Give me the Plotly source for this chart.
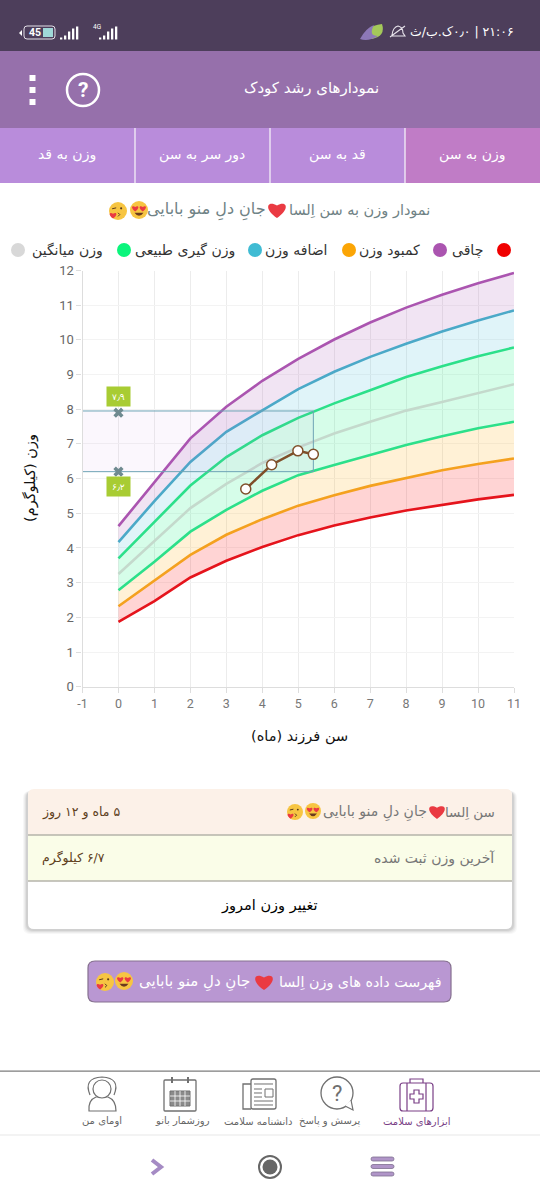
import re
import plotly.graph_objects as go

W = 540
H = 1200

# curves (kg per month)
ages = [0, 1, 2, 3, 4, 5, 6, 7, 8, 9, 10, 11]
weight_red = [1.87, 2.47, 3.15, 3.63, 4.03, 4.37, 4.65, 4.88, 5.08, 5.25, 5.40, 5.53]
weight_orange = [2.32, 3.05, 3.80, 4.38, 4.83, 5.22, 5.52, 5.79, 6.02, 6.24, 6.42, 6.58]
weight_green_low = [2.78, 3.60, 4.47, 5.10, 5.65, 6.10, 6.39, 6.68, 6.97, 7.22, 7.45, 7.64]
weight_grey = [3.25, 4.20, 5.15, 5.85, 6.45, 6.90, 7.30, 7.64, 7.96, 8.21, 8.47, 8.72]
weight_green_high = [3.70, 4.75, 5.80, 6.62, 7.25, 7.75, 8.17, 8.55, 8.93, 9.24, 9.53, 9.78]
weight_blue = [4.17, 5.35, 6.48, 7.35, 7.97, 8.58, 9.08, 9.51, 9.89, 10.24, 10.56, 10.85]
weight_purple = [4.63, 5.90, 7.16, 8.07, 8.82, 9.45, 10.01, 10.50, 10.93, 11.30, 11.63, 11.93]

child_age = [3.54, 4.26, 4.99, 5.42]
child_weight = [5.7, 6.4, 6.8, 6.7]

range_x = [-1, 5.42]
range_y = [6.2, 7.95]
limit_age = [0, 0]
limit_weight = [7.9, 6.2]
limit_labels = ["۷٫۹", "۶٫۲"]

x_ticks = [-1, 0, 1, 2, 3, 4, 5, 6, 7, 8, 9, 10, 11]
x_tick_labels = ["-1", "0", "1", "2", "3", "4", "5", "6", "7", "8", "9", "10", "11"]
y_ticks = [0, 1, 2, 3, 4, 5, 6, 7, 8, 9, 10, 11, 12]

tab_labels = ["وزن به سن", "قد به سن", "دور سر به سن", "وزن به قد"]
legend_labels = ["چاقی", "کمبود وزن", "اضافه وزن", "وزن گیری طبیعی", "وزن میانگین"]
nav_labels = ["ابزارهای سلامت", "پرسش و پاسخ", "دانشنامه سلامت", "روزشمار بانو", "اومای من"]

FONT = "DejaVu Sans"
shapes = []
notes = []


def px(x):
    return x / W


def py(y):
    return 1 - y / H


def rect(x0, y0, x1, y1, fill, line=None, lw=1):
    shapes.append(dict(type="rect", xref="paper", yref="paper", x0=px(x0), x1=px(x1), y0=py(y0), y1=py(y1),
                       fillcolor=fill, line=dict(color=line or fill, width=lw if line else 0), layer="below"))


def circle(cx, cy, r, fill, line=None, lw=1, layer="below"):
    shapes.append(dict(type="circle", xref="paper", yref="paper", x0=px(cx - r), x1=px(cx + r), y0=py(cy - r), y1=py(cy + r),
                       fillcolor=fill, line=dict(color=line or fill, width=lw if line else 0), layer=layer))


def path(d, fill="rgba(0,0,0,0)", line=None, lw=1, layer="below"):
    # path written in screen pixels, converted to paper units
    tokens = re.findall(r"[A-Za-z]|-?[\d.]+", d)
    out = []
    is_x = True
    for t in tokens:
        if t.isalpha():
            out.append(t)
            is_x = True
        else:
            out.append("%.5f" % (px(float(t)) if is_x else py(float(t))))
            is_x = not is_x
    shapes.append(dict(type="path", xref="paper", yref="paper", path=" ".join(out), fillcolor=fill,
                       line=dict(color=line or "rgba(0,0,0,0)", width=lw if line else 0), layer=layer))


def round_rect(x0, y0, x1, y1, r, fill, line=None, lw=1, top=True, bottom=True):
    rt = r if top else 0
    rb = r if bottom else 0
    d = (f"M {x0 + rt} {y0} L {x1 - rt} {y0} Q {x1} {y0} {x1} {y0 + rt} L {x1} {y1 - rb} Q {x1} {y1} {x1 - rb} {y1} "
         f"L {x0 + rb} {y1} Q {x0} {y1} {x0} {y1 - rb} L {x0} {y0 + rt} Q {x0} {y0} {x0 + rt} {y0} Z")
    path(d, fill, line, lw)


def text(x, y, s, size=12, color="#333333", anchor="center", family=FONT, bold=False):
    if bold:
        s = "<b>" + s + "</b>"
    notes.append(dict(xref="paper", yref="paper", x=px(x), y=py(y), text=s, showarrow=False, xanchor=anchor, yanchor="middle",
                      font=dict(family=family, size=size, color=color)))


def rtl(s):
    # force right to left order, otherwise digits and brackets land on the wrong side
    return "\u202b" + s + "\u202c"


def heart(cx, cy, s):
    path(f"M {cx} {cy + s} C {cx - s * 1.5} {cy} {cx - s * 1.1} {cy - s} {cx} {cy - s * 0.4} "
         f"C {cx + s * 1.1} {cy - s} {cx + s * 1.5} {cy} {cx} {cy + s} Z", "#ea3a42")


def love_emoji(cx, cy, r):
    circle(cx, cy, r, "#f7c542")
    heart(cx - r * 0.42, cy - r * 0.2, r * 0.36)
    heart(cx + r * 0.42, cy - r * 0.2, r * 0.36)
    path(f"M {cx - r * 0.5} {cy + r * 0.3} Q {cx} {cy + r * 1.0} {cx + r * 0.5} {cy + r * 0.3} Z", "#6b3a1e")


def kiss_emoji(cx, cy, r):
    circle(cx, cy, r, "#f7c542")
    circle(cx + r * 0.35, cy - r * 0.3, r * 0.12, "#5b3a1e")
    path(f"M {cx - r * 0.65} {cy - r * 0.25} L {cx - r * 0.2} {cy - r * 0.35}", line="#5b3a1e", lw=1)
    path(f"M {cx} {cy + r * 0.2} L {cx + r * 0.2} {cy + r * 0.4} L {cx} {cy + r * 0.6}", line="#5b3a1e", lw=1)
    heart(cx - r * 0.55, cy + r * 0.45, r * 0.38)


# ---- top bars
rect(0, 0, W, 51, "#4d3e5b")
rect(0, 51, W, 128, "#9670ab")
rect(0, 128, W, 183, "#b98cdb")
rect(405, 128, W, 183, "#c07cc6")
for x in [135, 270, 405]:
    rect(x - 0.7, 128, x + 0.7, 183, "#f0e8f5")

# status bar
text(516, 32, rtl("۲۱:۰۶ | ۰٫۰ک.ب/ث"), 12.5, "#ffffff", "right")
path("M 366 38 Q 364 26 382 24 Q 386 36 372 39 Z", "#a4c85a")
path("M 360 39 Q 366 28 374 25 Q 368 36 378 36 Q 368 42 360 39 Z", "#8d78b8")
path("M 390 37 L 405 26 M 392 35 Q 393 27 398 26 Q 403 27 403 33 L 405 36 L 391 36", line="#e8e4ec", lw=1.1)
round_rect(24, 26, 55, 39, 3, "rgba(0,0,0,0)", "#e4e0e8", 1)
rect(43, 28, 53, 37, "#9fd8d8")
text(35, 33, "45", 10.5, "#ffffff", family="Roboto", bold=True)
path("M 19 33 L 22 30 L 22 36 Z", "#ffffff")
for i, h in enumerate([2, 4, 8, 11, 13]):
    rect(60 + i * 4, 39.5 - h, 62.3 + i * 4, 39.5, "#ffffff")
    rect(99 + i * 4, 39.5 - h, 101.3 + i * 4, 39.5, "#ffffff")
text(97, 27, "4G", 6.5, "#ffffff", family="Roboto")

# header
for y in [78, 90, 102]:
    rect(29.5, y - 3, 35.5, y + 3, "#ffffff")
circle(83, 90, 16, "rgba(0,0,0,0)", "#ffffff", 2.5)
text(83, 90, "?", 21, "#ffffff", family="Roboto", bold=True)
text(311, 88, "نمودارهای رشد کودک", 15, "#ffffff")

for x, s in zip([472, 337, 202, 67], tab_labels):
    text(x, 155, s, 14, "#ffffff")

# title and legend
text(432, 210, "نمودار وزن به سن اِلسا", 14.5, "#6f8285", "right")
heart(277, 209, 9)
text(268, 210, "جانِ دلِ منو بابایی", 16, "#6f8285", "right")
love_emoji(139, 210, 9)
kiss_emoji(118, 211, 9)

dot_x = [504, 440, 349, 255, 124, 18]
dot_colors = ["#f00000", "#ab55b0", "#fba505", "#3fbbd3", "#0bf57c", "#d8d8d8"]
for x, c in zip(dot_x, dot_colors):
    circle(x, 250, 7, c)
for x, s in zip([485, 422, 330, 237, 105], legend_labels):
    text(x, 250, s, 14, "#333333", "right")

# ---- card under the chart
for i, a in enumerate([0.03, 0.04, 0.05, 0.07]):
    g = 5 - i
    round_rect(28 - g, 789 + 2, 512 + g, 929 + g, 7, "rgba(0,0,0,%s)" % a)
round_rect(28, 789, 512, 929, 6, "#ffffff")
round_rect(28, 789, 512, 835, 6, "#fcf1e8", bottom=False)
rect(28, 835, 512, 881, "#fafde8")
rect(28, 834.3, 512, 835.8, "#b5b3aa")
rect(28, 880.3, 512, 881.8, "#b5b3aa")
text(497, 812, "سن اِلسا", 13.5, "#777777", "right")
heart(437, 811, 8)
text(429, 812, "جانِ دلِ منو بابایی", 14, "#777777", "right")
love_emoji(313, 811, 8)
kiss_emoji(295, 812, 8)
text(40, 812, rtl("۵ ماه و ۱۲ روز"), 12.5, "#5e3f1c", "left")
text(40, 858, rtl("۶/۷ کیلوگرم"), 12.5, "#5e3f1c", "left")
text(497, 858, "آخرین وزن ثبت شده", 14, "#777777", "right")
text(269, 905, "تغییر وزن امروز", 14.5, "#000000")

round_rect(88, 961, 451, 1002, 7, "#b997d2", "#85708f", 1.2)
text(444, 982, "فهرست داده های وزن اِلسا", 14.3, "#ffffff", "right")
heart(264, 981, 9)
text(252, 982, "جانِ دلِ منو بابایی", 15, "#ffffff", "right")
love_emoji(124, 981, 9)
kiss_emoji(105, 982, 9)

# ---- bottom navigation
rect(0, 1070.4, W, 1071.8, "#7d7d7d")
rect(0, 1134.6, W, 1135.4, "#e8e8e8")
for x, s, c in zip([417, 329, 258, 182, 102], nav_labels, ["#7a3f86"] + ["#666666"] * 4):
    text(x, 1121, s, 10, c)

# medical bag
round_rect(400, 1083, 433, 1111, 3, "rgba(0,0,0,0)", "#7a3f86", 1.2)
path("M 407 1083 L 407 1111 M 426 1083 L 426 1111 M 410 1083 L 410 1079 L 423 1079 L 423 1083", line="#7a3f86", lw=1.2)
path("M 414 1090 L 419 1090 L 419 1094 L 423 1094 L 423 1099 L 419 1099 L 419 1103 L 414 1103 L 414 1099 L 410 1099 L 410 1094 L 414 1094 Z", line="#7a3f86", lw=1.2)
# question bubble
circle(337, 1093, 16, "rgba(0,0,0,0)", "#707070", 1.3)
path("M 345 1106 L 353 1110 L 351 1100", "#ffffff", "#707070", 1.2)
text(337, 1093, "?", 22, "#707070", family="Roboto")
# newspaper
round_rect(251, 1079, 276, 1109, 2, "rgba(0,0,0,0)", "#707070", 1.3)
path("M 251 1084 L 243 1084 L 243 1109 L 251 1109", line="#707070", lw=1.3)
rect(265, 1089, 273, 1097, "rgba(0,0,0,0)", "#707070", 1)
path("M 254 1084 L 273 1084 M 254 1089 L 262 1089 M 254 1093 L 262 1093 M 254 1097 L 262 1097 M 254 1101 L 273 1101 M 254 1105 L 273 1105",
     line="#707070", lw=1)
# calendar
round_rect(164, 1080, 196, 1111, 1, "rgba(0,0,0,0)", "#707070", 1.3)
path("M 172 1077 L 172 1083 M 188 1077 L 188 1083", line="#707070", lw=2)
rect(170, 1091, 190, 1106, "#8a8a8a", "#707070", 1)
for x in [175, 180, 185]:
    rect(x - 0.4, 1091, x + 0.4, 1106, "#ffffff")
for y in [1096, 1101]:
    rect(170, y - 0.4, 190, y + 0.4, "#ffffff")
# woman
path("M 89 1111 Q 88 1100 96 1097 L 108 1097 Q 116 1100 116 1111 Z M 90 1095 Q 83 1078 102 1077 Q 121 1078 114 1095", line="#707070", lw=1.2)
circle(102, 1089, 9, "#ffffff", "#707070", 1.2)

# system buttons
path("M 152 1160 L 161 1167 L 152 1174", line="#a58bc4", lw=4)
circle(270, 1167, 11, "#ffffff", "#666666", 2)
circle(270, 1167, 7.5, "#666666")
for y in [1159, 1166.5, 1174]:
    round_rect(371, y - 2, 394, y + 2, 2, "#b095c8", "#7f7090", 0.8)

# ---- chart
fig = go.Figure()

curves = [
    (weight_red, "#e5141c", None),
    (weight_orange, "#f4a11f", "rgba(255,0,0,0.17)"),
    (weight_green_low, "#2ce08a", "rgba(255,165,0,0.16)"),
    (weight_grey, "#c4d9cc", "rgba(0,240,120,0.16)"),
    (weight_green_high, "#2ce08a", "rgba(0,240,120,0.16)"),
    (weight_blue, "#4ba9c8", "rgba(60,185,220,0.16)"),
    (weight_purple, "#ab55b0", "rgba(170,85,180,0.16)"),
]
for values, color, band in curves:
    fig.add_trace(go.Scatter(x=ages, y=values, mode="lines", line=dict(color=color, width=2.6),
                             fill="tonexty" if band else None, fillcolor=band, hoverinfo="skip"))

fig.add_trace(go.Scatter(x=[range_x[0], range_x[1], range_x[1], range_x[0], range_x[0]],
                         y=[range_y[0], range_y[0], range_y[1], range_y[1], range_y[0]],
                         mode="lines", line=dict(color="#6ea3b5", width=1), fill="toself",
                         fillcolor="rgba(175,90,225,0.05)", hoverinfo="skip"))
fig.add_trace(go.Scatter(x=limit_age, y=limit_weight, mode="markers",
                         marker=dict(symbol="x", size=9, color="#6f8a90"), hoverinfo="skip"))
fig.add_trace(go.Scatter(x=child_age, y=child_weight, mode="lines+markers", line=dict(color="#7f4f2a", width=2.5),
                         marker=dict(size=10, color="#ffffff", line=dict(color="#7f4f2a", width=1.5)), hoverinfo="skip"))

for value, label, shift in zip(limit_weight, limit_labels, [16, -15]):
    notes.append(dict(x=0, y=value, xref="x", yref="y", text=label, showarrow=False, yshift=shift,
                      bgcolor="#a8cc33", width=21, height=17, font=dict(family=FONT, size=9, color="#ffffff")))

text(299, 736, rtl("سن فرزند (ماه)"), 14.5, "#111111")
notes.append(dict(xref="paper", yref="paper", x=px(30), y=py(478), text=rtl("وزن (کیلوگرم)"), showarrow=False, textangle=-90,
                  xanchor="center", yanchor="middle", font=dict(family=FONT, size=14.5, color="#111111")))

fig.update_layout(
    width=W, height=H, autosize=False, showlegend=False,
    margin=dict(l=0, r=0, t=0, b=0, pad=0, autoexpand=False), paper_bgcolor="#ffffff", plot_bgcolor="rgba(0,0,0,0)",
    shapes=shapes, annotations=notes,
    xaxis=dict(domain=[px(82.5), px(514)], range=[-1, 11], tickvals=x_ticks, ticktext=x_tick_labels, showgrid=True, gridcolor="#ececec", gridwidth=1,
               zeroline=False, showline=True, linecolor="#dddddd", linewidth=1.3, ticks="outside", ticklen=5, tickcolor="#dddddd",
               tickfont=dict(family="Roboto", size=12.5, color="#777777")),
    yaxis=dict(domain=[py(686.7), py(270.5)], range=[0, 12], tickvals=y_ticks, showgrid=True, gridcolor="#f3f3f3", gridwidth=1,
               zeroline=False, showline=True, linecolor="#dddddd", linewidth=1.3, ticks="outside", ticklen=5, tickcolor="#dddddd",
               tickfont=dict(family="Roboto", size=13, color="#666666")),
)

fig.write_html("out.html", config={"displayModeBar": False}, post_script="document.body.style.margin='0';")
